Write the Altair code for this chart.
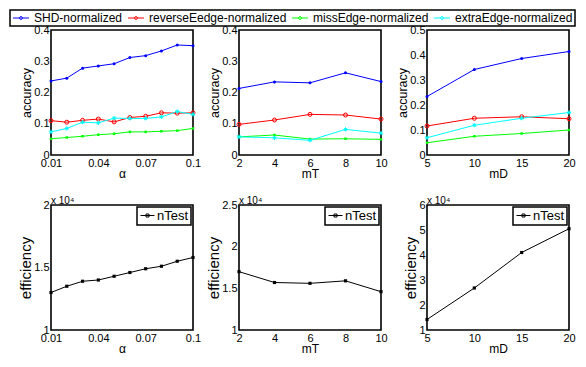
import altair as alt
import pandas as pd

FONT = "Liberation Sans"

# ---------------- data ----------------
series = ["SHD-normalized", "reverseEedge-normalized", "missEdge-normalized", "extraEdge-normalized"]
colors = ["#0000ff", "#ff0000", "#00ff00", "#00ffff"]

alpha = [0.01, 0.02, 0.03, 0.04, 0.05, 0.06, 0.07, 0.08, 0.09, 0.10]
alpha_shd = [0.237, 0.246, 0.278, 0.285, 0.292, 0.312, 0.318, 0.333, 0.352, 0.350]
alpha_rev = [0.110, 0.105, 0.111, 0.115, 0.106, 0.120, 0.124, 0.135, 0.134, 0.135]
alpha_miss = [0.052, 0.056, 0.060, 0.065, 0.068, 0.074, 0.074, 0.076, 0.078, 0.085]
alpha_extra = [0.074, 0.085, 0.105, 0.103, 0.118, 0.117, 0.117, 0.122, 0.139, 0.130]

mT = [2, 4, 6, 8, 10]
mT_shd = [0.213, 0.234, 0.231, 0.263, 0.235]
mT_rev = [0.098, 0.112, 0.130, 0.128, 0.115]
mT_miss = [0.058, 0.064, 0.051, 0.052, 0.050]
mT_extra = [0.058, 0.055, 0.047, 0.082, 0.070]

mD = [5, 10, 15, 20]
mD_shd = [0.234, 0.342, 0.386, 0.414]
mD_rev = [0.116, 0.147, 0.153, 0.145]
mD_miss = [0.049, 0.075, 0.086, 0.100]
mD_extra = [0.069, 0.119, 0.147, 0.170]

eff_alpha = [13000, 13500, 13900, 14000, 14300, 14600, 14900, 15100, 15500, 15800]
eff_mT = [17000, 15700, 15600, 15900, 14600]
eff_mD = [14200, 26800, 41000, 50500]

# ---------------- helpers ----------------
# legend symbols: a short line with a marker in its middle (unit box is -1..1, drawn wider)
LINE_DOT = "M-1,0L2.2,0M0.3,0A0.3,0.3,0,1,1,0.9,0A0.3,0.3,0,1,1,0.3,0"
LINE_SQ = "M-1,0L1.8,0M0.1,-0.3L0.7,-0.3L0.7,0.3L0.1,0.3Z"
STAR = "M-1,0L1,0M0,-1L0,1M-0.7,-0.7L0.7,0.7M-0.7,0.7L0.7,-0.7"
marker_style = [
    dict(shape="circle", size=9, filled=True),
    dict(shape="circle", size=16, filled=False, strokeWidth=1),
    dict(shape="square", size=6, filled=True),
    dict(shape=STAR, size=18, filled=False, strokeWidth=1),
]

W, H = 142, 125


def long_df(xs, ys_list):
    rows = []
    for name, ys in zip(series, ys_list):
        for xv, yv in zip(xs, ys):
            rows.append({"x": xv, "y": yv, "series": name})
    return pd.DataFrame(rows)


top_legend = alt.Legend(
    title=None, orient="none", legendX=-41, legendY=-20, direction="horizontal",
    symbolType=LINE_DOT, symbolSize=100, symbolStrokeWidth=1,
    labelFont=FONT, labelFontSize=12, labelColor="black", labelOffset=10,
    labelLimit=400, columnPadding=3, padding=2,
    strokeColor="black", fillColor="white",
)


def top_panel(df, xtitle, xdomain, xticks, xfmt, ydomain, yticks, show_legend):
    base = alt.Chart(df)
    x = alt.X("x:Q", title=xtitle,
              scale=alt.Scale(domain=xdomain, nice=False, zero=False),
              axis=alt.Axis(values=xticks, format=xfmt))
    y = alt.Y("y:Q", title="accuracy",
              scale=alt.Scale(domain=ydomain, nice=False, zero=False),
              axis=alt.Axis(values=yticks, format=".1~f"))
    color = alt.Color("series:N", sort=series,
                      scale=alt.Scale(domain=series, range=colors),
                      legend=top_legend if show_legend else None)
    layers = [base.mark_line(strokeWidth=1).encode(x=x, y=y, color=color)]
    for name, col, st in zip(series, colors, marker_style):
        layers.append(
            base.transform_filter(alt.datum.series == name)
            .mark_point(color=col, opacity=1, **st)
            .encode(x=x, y=y)
        )
    return alt.layer(*layers).properties(width=W, height=H)


def bot_panel(xs, ys, xtitle, xdomain, xticks, xfmt, ydomain, yticks):
    df = pd.DataFrame({"x": xs, "y": ys, "name": ["nTest"] * len(xs)})
    base = alt.Chart(df)
    x = alt.X("x:Q", title=xtitle,
              scale=alt.Scale(domain=xdomain, nice=False, zero=False),
              axis=alt.Axis(values=xticks, format=xfmt))
    y = alt.Y("y:Q", title="efficiency",
              scale=alt.Scale(domain=ydomain, nice=False, zero=False),
              axis=alt.Axis(values=yticks, labelExpr="format(datum.value / 10000, '.1~f')",
                            titleFontSize=15))
    color = alt.Color("name:N",
                      scale=alt.Scale(domain=["nTest"], range=["black"]),
                      legend=alt.Legend(
                          title=None, orient="top-right", offset=2,
                          symbolType=LINE_SQ, symbolSize=100, symbolStrokeWidth=1,
                          labelFont=FONT, labelFontSize=13, labelColor="black",
                          labelOffset=5, padding=2, strokeColor="black", fillColor="white"))
    line = base.mark_line(strokeWidth=1).encode(x=x, y=y, color=color)
    pts = base.mark_point(shape="square", size=10, filled=True, opacity=1, color="black").encode(x=x, y=y)
    return alt.layer(line, pts).properties(
        width=W, height=H,
        title=alt.TitleParams("x 10\u2074", anchor="start", frame="group", fontSize=10, offset=2,
                              dy=9, font=FONT, fontWeight="normal", color="black"),
    )


p1 = top_panel(long_df(alpha, [alpha_shd, alpha_rev, alpha_miss, alpha_extra]), "\u03b1",
               [0.01, 0.1], [0.01, 0.04, 0.07, 0.1], ".2~f", [0, 0.4], [0, 0.1, 0.2, 0.3, 0.4], True)
p2 = top_panel(long_df(mT, [mT_shd, mT_rev, mT_miss, mT_extra]), "mT",
               [2, 10], [2, 4, 6, 8, 10], "d", [0, 0.4], [0, 0.1, 0.2, 0.3, 0.4], False)
p3 = top_panel(long_df(mD, [mD_shd, mD_rev, mD_miss, mD_extra]), "mD",
               [5, 20], [5, 10, 15, 20], "d", [0, 0.5], [0, 0.1, 0.2, 0.3, 0.4, 0.5], False)

b1 = bot_panel(alpha, eff_alpha, "\u03b1", [0.01, 0.1], [0.01, 0.04, 0.07, 0.1], ".2~f",
               [10000, 20000], [10000, 15000, 20000])
b2 = bot_panel(mT, eff_mT, "mT", [2, 10], [2, 4, 6, 8, 10], "d",
               [10000, 25000], [10000, 15000, 20000, 25000])
b3 = bot_panel(mD, eff_mD, "mD", [5, 20], [5, 10, 15, 20], "d",
               [10000, 60000], [10000, 20000, 30000, 40000, 50000, 60000])

chart = (
    alt.concat(p1, p2, p3, b1, b2, b3, columns=3,
               spacing={"row": 50, "column": 46}, bounds="flush")
    .resolve_scale(color="independent")
    .properties(padding={"left": 0, "top": 0, "right": 0, "bottom": 0}, background="white")
    .configure_view(stroke="black", strokeWidth=1.6)
    .configure_axis(grid=False, domain=False, ticks=False,
                    labelFont=FONT, labelFontSize=11, labelColor="black",
                    titleFont=FONT, titleFontSize=12.5, titleFontWeight="normal", titleColor="black",
                    labelFlush=False, labelOverlap=False)
    .configure_axisX(labelPadding=2, titlePadding=0, titleFontSize=12)
    .configure_axisY(labelPadding=2, titlePadding=0)
    .configure_legend(strokeWidth=1.5)
)

chart.save("out.html", embed_options={"renderer": "svg", "actions": False})
